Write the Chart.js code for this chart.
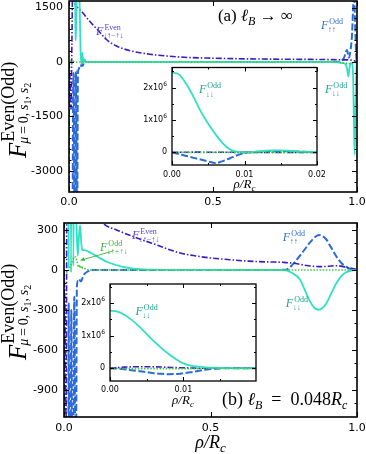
<!DOCTYPE html>
<html>
<head>
<meta charset="utf-8">
<title>F even / odd components</title>
<script src="https://cdn.jsdelivr.net/npm/chart.js@4.4.1/dist/chart.umd.min.js"></script>
<style>
  html, body { margin: 0; padding: 0; background: #fff; }
  #fig { position: relative; width: 366px; height: 454px; overflow: hidden; }
  #fig canvas { position: absolute; }
</style>
</head>
<body>
<div id="fig">
  <canvas id="mainA" width="366" height="215" style="left:0px;top:0px"></canvas>
  <canvas id="mainB" width="366" height="234" style="left:0px;top:220px"></canvas>
  <canvas id="insetA" width="195" height="140" style="left:130px;top:60px"></canvas>
  <canvas id="insetB" width="195" height="140" style="left:70px;top:276px"></canvas>
</div>
<script>
// ---- values ----

// (a) l_B -> infinity, main axes
const aDD_x = [0, 0.004, 0.008, 0.011, 0.014, 0.018, 0.021, 0.024, 0.028, 0.032, 0.036, 0.04, 0.043, 0.046, 0.05, 0.054, 0.058, 0.065, 0.3, 0.6, 0.9, 0.93, 0.95, 0.96, 0.966, 0.97, 0.974, 0.978, 0.982, 0.986, 0.989, 0.992, 0.995, 0.998, 1.0];
const aDD_y = [2.4e6, 1.3e6, 9e4, 5000, 40000, 20000, 3000, 600, 2500, 3000, 2000, 350, -50, 250, -30, 80, 0, 0, 0, 0, 0, -10, -30, -60, -200, -400, -150, -30, -40, -300, -1500, -2550, -1200, -200, 0];
const aUU_x = [0, 0.003, 0.006, 0.009, 0.012, 0.016, 0.02, 0.024, 0.028, 0.031, 0.034, 0.037, 0.04, 0.044, 0.048, 0.052, 0.06, 0.3, 0.6, 0.9, 0.94, 0.955, 0.965, 0.972, 0.978, 0.983, 0.987, 0.99, 0.993, 0.997, 1.0];
const aUU_y = [0, -1.5e5, -3e5, -5e4, -8000, -300, -6000, -250, -5000, -300, -200, -130, -150, -60, -100, -20, 0, 0, 0, 0, 10, 120, 330, 120, 350, 800, 1600, 2000, 1200, 200, 0];
const aEv_x = [0, 0.004, 0.007, 0.01, 0.013, 0.02, 0.03, 0.04, 0.05, 0.06, 0.08, 0.1, 0.13, 0.165, 0.223, 0.28, 0.34, 0.4, 0.5, 0.63, 0.75, 0.86, 0.95, 0.985, 1.0];
const aEv_y = [0, -600, -1300, 500, 2200, 1640, 1500, 1420, 1335, 1230, 1050, 880, 620, 440, 290, 215, 165, 130, 105, 85, 76, 70, 60, 50, 0];
const aMix_x = [0, 0.004, 0.008, 0.012, 0.02, 0.03, 0.5, 0.93, 0.95, 0.975, 0.99, 1.0];
const aMix_y = [0, 60, -40, 20, 5, 0, 0, 0, -30, -40, -20, 0];

// (a) inset, rho/Rc from 0 to 0.02
const iaX = [0, 0.001, 0.002, 0.003, 0.004, 0.005, 0.006, 0.007, 0.008, 0.009, 0.01, 0.011, 0.012, 0.013, 0.014, 0.015, 0.016, 0.017, 0.018, 0.019, 0.02];
const iaDD = [2.47e6, 2.40e6, 2.10e6, 1.70e6, 1.25e6, 0.88e6, 0.56e6, 0.28e6, 0.09e6, 0.02e6, 0, 0.01e6, 0.03e6, 0.05e6, 0.06e6, 0.06e6, 0.05e6, 0.04e6, 0.025e6, 0.015e6, 0.01e6];
const iaUU = [0, -0.055e6, -0.11e6, -0.17e6, -0.22e6, -0.28e6, -0.33e6, -0.27e6, -0.18e6, -0.09e6, -0.02e6, 0.005e6, 0.02e6, 0.035e6, 0.04e6, 0.04e6, 0.035e6, 0.03e6, 0.02e6, 0.01e6, 0.005e6];
const iaEv = [0, 0.003e6, 0.005e6, 0.006e6, 0.006e6, 0.005e6, 0.004e6, 0.003e6, 0.002e6, 0.001e6, 0, 0, 0, 0, 0, 0, 0, 0, 0, 0, 0];
const iaMix = [0, 0, 0, 0, 0, 0, 0, 0, 0, 0, 0, 0, 0, 0, 0, 0, 0, 0, 0, 0, 0];

// (b) l_B = 0.048 Rc, main axes
const bDD_x = [0, 0.008, 0.012, 0.016, 0.02, 0.024, 0.028, 0.032, 0.036, 0.04, 0.044, 0.047, 0.051, 0.055, 0.059, 0.062, 0.07, 0.083, 0.1, 0.12, 0.15, 0.2, 0.25, 0.3, 0.4, 0.7, 0.757, 0.78, 0.804, 0.82, 0.838, 0.855, 0.87, 0.882, 0.894, 0.91, 0.928, 0.945, 0.963, 0.98, 1.0];
const bDD_y = [1.77e6, 4.4e5, 3e4, 20, 3000, -20, 2500, 30, 1500, 600, 250, 107, 250, 335, 200, 152, 148, 138, 118, 92, 58, 24, 8, 2, 0, 0, -3, -25, -67, -140, -230, -285, -298, -285, -255, -185, -105, -50, -17, -5, 0];
const bUU_x = [0, 0.005, 0.009, 0.013, 0.016, 0.02, 0.025, 0.03, 0.035, 0.04, 0.044, 0.048, 0.051, 0.055, 0.058, 0.065, 0.07, 0.08, 0.09, 0.1, 0.7, 0.757, 0.78, 0.815, 0.85, 0.87, 0.894, 0.91, 0.928, 0.95, 0.975, 1.0];
const bUU_y = [0, -8e4, -1.8e5, -3e4, -250, -4000, -300, -3000, -200, -2000, -128, -80, -68, -80, -85, -50, -30, -12, -3, 0, 0, 2, 40, 135, 232, 262, 232, 175, 107, 45, 10, 0];
const bEv_x = [0, 0.004, 0.007, 0.01, 0.013, 0.02, 0.05, 0.1, 0.133, 0.18, 0.236, 0.3, 0.35, 0.4, 0.45, 0.5, 0.55, 0.63, 0.7, 0.75, 0.79, 0.83, 0.87, 0.9, 0.93, 0.96, 0.98, 1.0];
const bEv_y = [0, -400, -1200, 1000, 3000, 2000, 900, 470, 352, 300, 250, 200, 160, 125, 105, 90, 80, 66, 60, 57, 48, 33, 25, 27, 32, 22, 12, 5];
const bMix_x = [0, 0.01, 0.02, 0.028, 0.035, 0.04, 0.045, 0.05, 0.055, 0.06, 0.065, 0.075, 0.1, 0.5, 1.0];
const bMix_y = [0, -20, 20, 60, 97, 97, 60, 20, 35, 10, 20, 5, 0, 0, 0];

// (b) inset
const ibX = [0, 0.001, 0.002, 0.003, 0.004, 0.005, 0.006, 0.007, 0.008, 0.009, 0.01, 0.011, 0.012, 0.013, 0.014, 0.015, 0.016, 0.017, 0.018, 0.019, 0.02];
const ibDD = [1.77e6, 1.74e6, 1.64e6, 1.48e6, 1.28e6, 1.05e6, 0.83e6, 0.62e6, 0.44e6, 0.28e6, 0.15e6, 0.08e6, 0.05e6, 0.03e6, 0.02e6, 0.01e6, 0.005e6, 0, 0, 0, 0];
const ibUU = [0, -0.01e6, -0.03e6, -0.06e6, -0.09e6, -0.12e6, -0.15e6, -0.17e6, -0.18e6, -0.175e6, -0.15e6, -0.12e6, -0.08e6, -0.045e6, -0.02e6, -0.005e6, 0, 0, 0, 0, 0];
const ibEv = [0, 0.02e6, 0.035e6, 0.045e6, 0.05e6, 0.05e6, 0.045e6, 0.04e6, 0.03e6, 0.02e6, 0.015e6, 0.01e6, 0.005e6, 0, 0, 0, 0, 0, 0, 0, 0];
const ibMix = [0, -0.005e6, -0.01e6, -0.01e6, -0.01e6, -0.01e6, -0.01e6, -0.01e6, -0.01e6, -0.01e6, -0.01e6, -0.01e6, -0.01e6, -0.005e6, 0, 0, 0, 0, 0, 0, 0];

// tick labels
const mainXTicks = [0, 0.5, 1];
const mainXText = ['0.0', '0.5', '1.0'];
const aYTicks = [-3000, -1500, 0, 1500];
const aYText = ['-3000', '-1500', '0', '1500'];
const bYTicks = [-900, -600, -300, 0, 300];
const bYText = ['-900', '-600', '-300', '0', '300'];
const insXTicks = [0, 0.01, 0.02];
const insXText = ['0.00', '0.01', '0.02'];
const insYTicks = [0, 1e6, 2e6];
const insYText = ['0', '1x10^6', '2x10^6'];

// ---- drawing ----
const SERIF = '"Liberation Serif", "DejaVu Serif", serif';
const SANS = '"DejaVu Sans", sans-serif';
const COL = { dd: '#30e0c6', uu: '#2b6bd9', ev: '#3c1cc6', mix: '#3fca3f' };
const LABCOL = { dd: '#1fa38e', uu: '#2f6fd6', ev: '#5a44d6', mix: '#3bb43b' };

function steps(a, b, d, skip) {
  const out = [];
  for (let v = a; v <= b + 1e-9; v += d) {
    const r = Math.round(v / d) * d;
    if (!skip.some(s => Math.abs(s - r) < d / 10)) out.push(r);
  }
  return out;
}

function rich(c, x, y, parts) {
  for (const p of parts) {
    c.font = p[1];
    c.fillText(p[0], x, y + (p[2] || 0));
    x += c.measureText(p[0]).width;
  }
  return x;
}
function richWidth(c, parts) {
  let w = 0;
  for (const p of parts) { c.font = p[1]; w += c.measureText(p[0]).width; }
  return w;
}

function fLabel(c, x, y, sup, sub, color, size) {
  c.fillStyle = color;
  c.font = 'italic ' + size + 'px ' + SERIF;
  c.fillText('F', x, y);
  const w = c.measureText('F').width;
  const s = Math.round(size * 0.64);
  c.font = s + 'px ' + SERIF;
  c.fillText(sup, x + w + 1, y - size * 0.42);
  c.fillText(sub, x + w - 0.5, y + size * 0.26);
}

function yTitle(c, x, y) {
  c.save();
  c.translate(x, y);
  c.rotate(-Math.PI / 2);
  c.fillStyle = '#000';
  c.font = 'italic 25px ' + SERIF;
  c.fillText('F', 0, 0);
  const w = c.measureText('F').width;
  rich(c, w + 1, -12, [['Even(Odd)', '18px ' + SERIF]]);
  const it = 'italic 14px ' + SERIF, up = '14px ' + SERIF, sm = '10px ' + SERIF;
  rich(c, w - 1, 2, [['μ', it], ['\u2009=\u20090,\u2009', up], ['s', it], ['1', sm, 3], [',\u2009', up], ['s', it], ['2', sm, 3]]);
  c.restore();
}

function rhoTitle(c, cx, y, size) {
  const sm = Math.round(size * 0.7);
  const parts = [['ρ/R', 'italic ' + size + 'px ' + SERIF], ['c', 'italic ' + sm + 'px ' + SERIF, size * 0.22]];
  rich(c, cx - richWidth(c, parts) / 2, y, parts);
}

function arrow(c, x1, y1, x2, y2, color) {
  const a = Math.atan2(y2 - y1, x2 - x1), L = 5;
  c.strokeStyle = color; c.fillStyle = color; c.lineWidth = 0.9;
  c.beginPath(); c.moveTo(x1, y1); c.lineTo(x2 - Math.cos(a) * 3, y2 - Math.sin(a) * 3); c.stroke();
  c.beginPath();
  c.moveTo(x2, y2);
  c.lineTo(x2 - L * Math.cos(a - 0.4), y2 - L * Math.sin(a - 0.4));
  c.lineTo(x2 - L * Math.cos(a + 0.4), y2 - L * Math.sin(a + 0.4));
  c.closePath(); c.fill();
}

// frame, inward ticks, tick labels and annotations
function decor(cfg) {
  return {
    id: 'decor',
    beforeDraw(chart) {
      if (!cfg.fill) return;
      const a = chart.chartArea, c = chart.ctx;
      c.save(); c.fillStyle = '#fff';
      c.fillRect(a.left, a.top, a.right - a.left, a.bottom - a.top);
      c.restore();
    },
    afterDraw(chart) {
      const c = chart.ctx, a = chart.chartArea;
      const X = v => chart.scales.x.getPixelForValue(v);
      const Y = v => chart.scales.y.getPixelForValue(v);
      c.save();
      c.strokeStyle = '#000';
      c.lineWidth = 1;
      c.beginPath();
      const tx = (v, len) => { const p = Math.round(X(v)) + 0.5; c.moveTo(p, a.bottom); c.lineTo(p, a.bottom - len); c.moveTo(p, a.top); c.lineTo(p, a.top + len); };
      const ty = (v, len) => { const p = Math.round(Y(v)) + 0.5; c.moveTo(a.left, p); c.lineTo(a.left + len, p); c.moveTo(a.right, p); c.lineTo(a.right - len, p); };
      cfg.xMajor.forEach(v => tx(v, cfg.maj));
      cfg.xMinor.forEach(v => tx(v, cfg.min));
      cfg.yMajor.forEach(v => ty(v, cfg.maj));
      cfg.yMinor.forEach(v => ty(v, cfg.min));
      c.stroke();
      c.lineWidth = cfg.frame;
      c.strokeRect(a.left, a.top, a.right - a.left, a.bottom - a.top);

      c.fillStyle = '#000';
      c.textBaseline = 'middle';
      c.textAlign = 'center';
      c.font = cfg.fs + 'px ' + SANS;
      cfg.xMajor.forEach((v, i) => { if (cfg.xText[i]) c.fillText(cfg.xText[i], X(v), a.bottom + cfg.xGap); });
      cfg.yMajor.forEach((v, i) => {
        const t = cfg.yText[i].split('^');
        const big = cfg.fs + 'px ' + SANS, small = Math.round(cfg.fs * 0.75) + 'px ' + SANS;
        const parts = [[t[0], big]];
        if (t[1]) parts.push([t[1], small, -cfg.fs * 0.45]);
        c.textAlign = 'left';
        rich(c, a.left - cfg.yGap - richWidth(c, parts), Y(v), parts);
      });
      c.textBaseline = 'alphabetic';
      c.textAlign = 'left';
      if (cfg.notes) cfg.notes(c, X, Y, a);
      c.restore();
    }
  };
}

function lineSet(xs, ys, style) {
  return Object.assign({
    data: xs.map((x, i) => ({ x: x, y: ys[i] })),
    pointRadius: 0, fill: false, cubicInterpolationMode: 'monotone'
  }, style);
}
const ST = {
  mix: { borderColor: COL.mix, borderWidth: 1.6, borderDash: [1.5, 1.6] },
  dd:  { borderColor: COL.dd, borderWidth: 1.8 },
  ev:  { borderColor: COL.ev, borderWidth: 1.6, borderDash: [6, 2, 1.5, 2] },
  uu:  { borderColor: COL.uu, borderWidth: 2, borderDash: [7, 2.5] }
};

function makeChart(id, datasets, xr, yr, pad, cfg) {
  return new Chart(document.getElementById(id), {
    type: 'line',
    data: { datasets: datasets },
    options: {
      responsive: false, animation: false, devicePixelRatio: 1, events: [],
      layout: { padding: pad },
      scales: {
        x: { type: 'linear', display: false, min: xr[0], max: xr[1] },
        y: { type: 'linear', display: false, min: yr[0], max: yr[1] }
      },
      plugins: { legend: { display: false }, tooltip: { enabled: false } }
    },
    plugins: [decor(cfg)]
  });
}

// panel (a)
makeChart('mainA', [
  lineSet(aMix_x, aMix_y, ST.mix), lineSet(aDD_x, aDD_y, ST.dd),
  lineSet(aEv_x, aEv_y, ST.ev), lineSet(aUU_x, aUU_y, ST.uu)
], [0, 1], [-3580, 1680], { left: 69, top: 1, right: 9, bottom: 23 }, {
  frame: 1.6, maj: 5, min: 2.5, fs: 11, xGap: 10, yGap: 6,
  xMajor: mainXTicks, xMinor: [], xText: mainXText,
  yMajor: aYTicks, yMinor: steps(-3300, 1500, 300, aYTicks), yText: aYText,
  notes(c, X, Y) {
    fLabel(c, X(0.094), Y(743), 'Even', '↓↑−↑↓', LABCOL.ev, 12);
    fLabel(c, X(0.875), Y(908), 'Odd', '↑↑', LABCOL.uu, 12);
    fLabel(c, X(0.889), Y(-853), 'Odd', '↓↓', LABCOL.dd, 12);
    c.fillStyle = '#000';
    const f = 17;
    rich(c, X(0.517), Y(1128), [['(a) ', f + 'px ' + SERIF], ['ℓ', 'italic ' + f + 'px ' + SERIF], ['B', 'italic 12px ' + SERIF, 4], [' → ∞', f + 'px ' + SERIF]]);
    yTitle(c, 26, 158);
  }
});

makeChart('insetA', [
  lineSet(iaX, iaMix, ST.mix), lineSet(iaX, iaDD, ST.dd),
  lineSet(iaX, iaEv, ST.ev), lineSet(iaX, iaUU, ST.uu)
], [0, 0.02], [-0.39e6, 2.62e6], { left: 42, top: 7.5, right: 8, bottom: 35 }, {
  fill: true, frame: 1.3, maj: 4, min: 2, fs: 8, xGap: 10, yGap: 5,
  xMajor: insXTicks, xMinor: [0.005, 0.015], xText: insXText,
  yMajor: insYTicks, yMinor: [0.5e6, 1.5e6, 2.5e6], yText: insYText,
  notes(c, X, Y, a) {
    fLabel(c, X(0.00372), Y(1.82e6), 'Odd', '↓↓', LABCOL.dd, 12);
    c.fillStyle = '#000';
    rhoTitle(c, (a.left + a.right) / 2, a.bottom + 23, 13);
  }
});

// panel (b)
makeChart('mainB', [
  lineSet(bMix_x, bMix_y, ST.mix), lineSet(bDD_x, bDD_y, ST.dd),
  lineSet(bEv_x, bEv_y, ST.ev), lineSet(bUU_x, bUU_y, ST.uu)
], [0, 1], [-1102, 352], { left: 64, top: 3, right: 9, bottom: 37 }, {
  frame: 1.6, maj: 5, min: 2.5, fs: 11, xGap: 11, yGap: 6,
  xMajor: mainXTicks, xMinor: [], xText: mainXText,
  yMajor: bYTicks, yMinor: steps(-1000, 300, 100, bYTicks), yText: bYText,
  notes(c, X, Y, a) {
    fLabel(c, X(0.232), Y(232), 'Even', '↓↑−↑↓', LABCOL.ev, 12);
    fLabel(c, X(0.123), Y(142), 'Odd', '↓↑+↑↓', LABCOL.mix, 12);
    arrow(c, X(0.167), Y(142), X(0.0546), Y(71), LABCOL.mix);
    fLabel(c, X(0.747), Y(217), 'Odd', '↑↑', LABCOL.uu, 12);
    fLabel(c, X(0.757), Y(-277), 'Odd', '↓↓', LABCOL.dd, 12);
    c.fillStyle = '#000';
    const f = 18, big = f + 'px ' + SERIF, it = 'italic ' + f + 'px ' + SERIF, sm = 'italic 12px ' + SERIF;
    rich(c, X(0.539), Y(-1012), [['(b) ', big], ['ℓ', it], ['B', sm, 4], ['\u2002=\u20020.048', big], ['R', it], ['c', sm, 4]]);
    rhoTitle(c, (a.left + a.right) / 2, a.bottom + 31, 18);
    yTitle(c, 26, 140);
  }
});

makeChart('insetB', [
  lineSet(ibX, ibMix, ST.mix), lineSet(ibX, ibDD, ST.dd),
  lineSet(ibX, ibEv, ST.ev), lineSet(ibX, ibUU, ST.uu)
], [0, 0.0199], [-0.39e6, 2.59e6], { left: 40, top: 8, right: 9, bottom: 35 }, {
  fill: true, frame: 1.3, maj: 4, min: 2, fs: 8, xGap: 9, yGap: 5,
  xMajor: [0, 0.01], xMinor: [0.005, 0.015], xText: insXText,
  yMajor: insYTicks, yMinor: [0.5e6, 1.5e6, 2.5e6], yText: insYText,
  notes(c, X, Y, a) {
    fLabel(c, X(0.00348), Y(1.64e6), 'Odd', '↓↓', LABCOL.dd, 12);
    c.fillStyle = '#000';
    rhoTitle(c, (a.left + a.right) / 2, a.bottom + 23, 13);
  }
});
</script>
</body>
</html>
